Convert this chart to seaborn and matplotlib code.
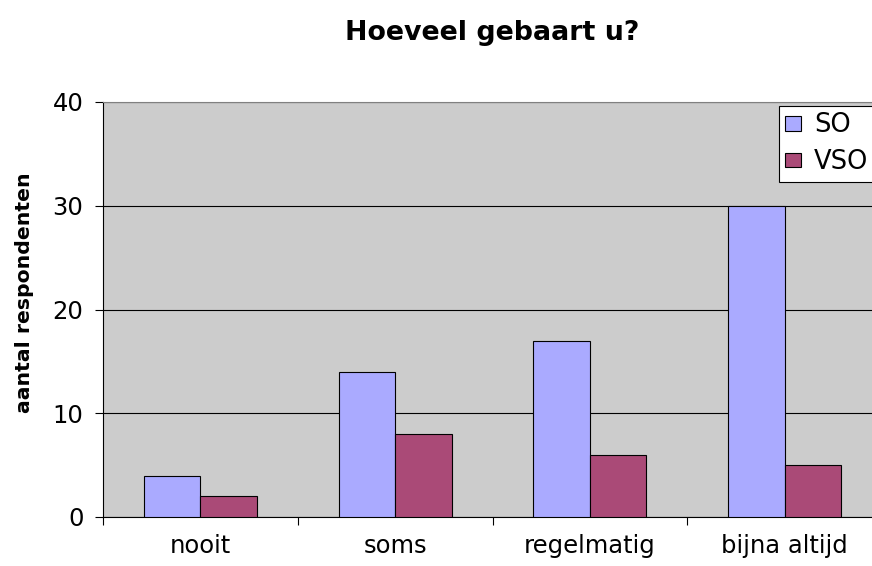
import matplotlib
matplotlib.use("Agg")
import matplotlib.pyplot as plt
import seaborn as sns
import pandas as pd
from matplotlib.patches import Patch
from matplotlib.ticker import FixedLocator

categories = ["nooit", "soms", "regelmatig", "bijna altijd"]
so_values = [4, 14, 17, 30]
vso_values = [2, 8, 6, 5]
series_names = ["SO", "VSO"]
colors = ["#aaaaff", "#aa4a77"]

df = pd.DataFrame({
    "categorie": categories * 2,
    "waarde": so_values + vso_values,
    "groep": [series_names[0]] * len(categories) + [series_names[1]] * len(categories),
})

sns.set_theme(style="white")
plt.rcParams["font.family"] = ["DejaVu Sans"]
for k in ["text.color", "axes.labelcolor", "xtick.color", "ytick.color"]:
    plt.rcParams[k] = "black"

fig = plt.figure(figsize=(8.72, 5.66), dpi=100)
fig.patch.set_facecolor("white")
ax = fig.add_axes([103 / 872, 49 / 566, 779 / 872, 415 / 566])
ax.set_facecolor("#cccccc")

sns.barplot(data=df, x="categorie", y="waarde", hue="groep", order=categories,
            hue_order=series_names, palette=colors, saturation=1, width=0.58,
            edgecolor="black", linewidth=0.8, legend=False, ax=ax, zorder=3)

ax.set_xlim(-0.5, len(categories) - 0.5)
ax.set_ylim(0, 40)
ax.set_yticks([0, 10, 20, 30, 40])
ax.yaxis.grid(True, color="black", linewidth=0.8, zorder=1)
ax.set_axisbelow(True)

ax.set_xlabel("")
ax.set_ylabel("aantal respondenten", fontsize=14.7, fontweight="bold")
ax.yaxis.set_label_coords((34 - 103) / 779, (517 - 293) / 415)

ax.tick_params(axis="x", which="major", length=0, pad=12, labelsize=17.5)
ax.xaxis.set_minor_locator(FixedLocator([-0.5, 0.5, 1.5, 2.5]))
ax.tick_params(axis="x", which="minor", length=6, width=0.8, color="black", direction="out", bottom=True)
ax.tick_params(axis="y", length=6, width=0.8, color="black", direction="out", left=True, pad=8, labelsize=17.5)

for side in ["left", "bottom", "top"]:
    ax.spines[side].set_visible(True)
    ax.spines[side].set_color("black")
    ax.spines[side].set_linewidth(0.8)
ax.spines["top"].set_color("#808080")
ax.spines["right"].set_visible(False)

ax.set_title("Hoeveel gebaart u?", fontsize=19.4, fontweight="bold", pad=45)

handles = [Patch(facecolor=c, edgecolor="black", linewidth=0.8, label=n) for c, n in zip(colors, series_names)]
leg = fig.legend(handles=handles, loc="upper left", bbox_to_anchor=(779 / 872, 1 - 106 / 566),
                 fontsize=18.5, frameon=True, fancybox=False, edgecolor="black",
                 facecolor="white", framealpha=1,
                 handlelength=0.62, handleheight=0.5, handletextpad=0.5, borderpad=0.25,
                 labelspacing=0.42, borderaxespad=0)
leg.get_frame().set_linewidth(0.8)

fig.savefig("out.png", dpi=100)
